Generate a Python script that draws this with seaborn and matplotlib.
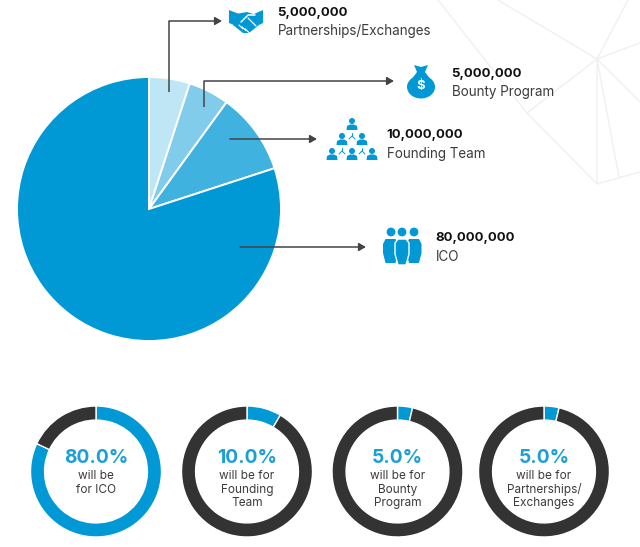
import matplotlib
matplotlib.use("Agg")
import matplotlib.pyplot as plt
import matplotlib.patches as mpatches
import seaborn as sns

# Token allocation
categories = ["Partnerships/Exchanges", "Bounty Program", "Founding Team", "ICO"]
tokens = [5000000, 5000000, 10000000, 80000000]
token_labels = ["5,000,000", "5,000,000", "10,000,000", "80,000,000"]
pie_colors = ["#BFE6F5", "#80CCEA", "#40B2E0", "#0099D5"]

# Rings at the bottom: printed percent, and the arc as it is actually drawn
ring_values = [80.0, 10.0, 5.0, 5.0]
ring_arcs = [82.0, 8.5, 3.7, 3.7]
ring_labels = ["will be\nfor ICO", "will be for\nFounding\nTeam", "will be for\nBounty\nProgram", "will be for\nPartnerships/\nExchanges"]
ring_x = [96, 247, 397.5, 544]

BLUE = "#0099D5"
DARK = "#333333"
TEXT = "#3c3c3c"
W, H = 640, 547

sns.set_theme(style="white")
plt.rcParams["font.family"] = ["Inter", "DejaVu Sans"]

fig = plt.figure(figsize=(W / 100, H / 100), dpi=100, facecolor="white")


def pie_axes(cx, cy, r):
    a = fig.add_axes([(cx - r) / W, 1 - (cy + r) / H, 2 * r / W, 2 * r / H])
    a.set_xlim(-1, 1)
    a.set_ylim(-1, 1)
    a.axis("off")
    return a


# background lines, sit behind everything
bg = fig.add_axes([0, 0, 1, 1], zorder=0)
bg.set_xlim(0, W)
bg.set_ylim(H, 0)
bg.axis("off")
web = [[(438, 0), (527, 113), (597, 184), (640, 172)], [(498, 0), (597, 59), (628, 0)],
       [(640, 43), (597, 59), (640, 102)], [(527, 113), (597, 59), (597, 184)], [(597, 59), (619, 177)]]
for seg in web:
    bg.plot([p[0] for p in seg], [p[1] for p in seg], color="#F0F0F0", lw=1)

# main pie
ax = pie_axes(149, 209, 132)
ax.set_zorder(1)
ax.pie(tokens, colors=pie_colors, startangle=90, counterclock=False, radius=1,
       wedgeprops={"edgecolor": "white", "linewidth": 1.4})
ax.set_xlim(-1, 1)
ax.set_ylim(-1, 1)

# rings
for x, v in zip(ring_x, ring_arcs):
    a = pie_axes(x, 471.5, 65.5)
    a.set_zorder(1)
    a.pie([v, 100 - v], colors=[BLUE, DARK], startangle=90, counterclock=False, radius=1,
          wedgeprops={"width": 0.215})
    a.set_xlim(-1, 1)
    a.set_ylim(-1, 1)

# overlay in pixel coordinates
ov = fig.add_axes([0, 0, 1, 1], zorder=2)
ov.set_xlim(0, W)
ov.set_ylim(H, 0)
ov.axis("off")
ov.patch.set_alpha(0)


def arrow(points):
    xs = [p[0] for p in points]
    ys = [p[1] for p in points]
    ov.plot(xs[:-1], ys[:-1], color="#444444", lw=1.1, solid_capstyle="butt")
    ov.annotate("", xy=points[-1], xytext=points[-2],
                arrowprops=dict(arrowstyle="-|>,head_width=0.2,head_length=0.35", color="#444444", lw=1.1,
                                shrinkA=0, shrinkB=0))


arrow([(169, 92), (169, 21), (222, 21)])
arrow([(204, 107), (204, 81), (394, 81)])
arrow([(230, 139), (317, 139)])
arrow([(240, 247), (366, 247)])

# callout text
label_pos = [(278, 13, 31), (452, 74, 92), (387, 135, 154), (436, 238, 257)]
for (x, y1, y2), num, cat in zip(label_pos, token_labels, categories):
    ov.text(x - 0.5, y1, num, fontsize=9.5, fontweight="bold", color="#111111", va="center", ha="left")
    ov.text(x, y2, cat, fontsize=9.7, color=TEXT, va="center", ha="left")

# ring text
for x, v, lab in zip(ring_x, ring_values, ring_labels):
    ov.text(x, 458, f"{v:.1f}%", fontsize=13.8, fontweight="bold", color="#1A9FD8", ha="center", va="center")
    for i, line in enumerate(lab.split("\n")):
        ov.text(x, 476 + i * 13.6, line, fontsize=8.5, color=TEXT, ha="center", va="center")


# icons
def person(x, y):
    ov.add_patch(mpatches.Circle((x, y - 3), 3, color=BLUE, lw=0))
    ov.add_patch(mpatches.Polygon([(x - 5.5, y + 6), (x - 5, y + 2), (x - 2, y + 0.5),
                                   (x + 2, y + 0.5), (x + 5, y + 2), (x + 5.5, y + 6)],
                                  color=BLUE, lw=0))


def handshake():
    ov.add_patch(mpatches.Polygon([(229, 10), (239, 14), (234, 25), (229, 23)], color=BLUE, lw=0))
    ov.add_patch(mpatches.Polygon([(263, 10), (254, 14), (259, 25), (263, 23)], color=BLUE, lw=0))
    ov.add_patch(mpatches.Polygon([(236, 14), (247, 12), (256, 15), (259, 25), (249, 33), (243, 33), (233, 25)],
                                  color=BLUE, lw=0))
    ov.plot([241, 248, 255], [22, 15, 15], color="white", lw=1.1)
    ov.plot([248, 256], [18, 26], color="white", lw=0.9)
    for dx in (0, 3, 6):
        ov.plot([239 + dx, 243 + dx], [25 + dx * 0.6, 29 + dx * 0.6], color="white", lw=0.8)


def moneybag():
    ov.add_patch(mpatches.Ellipse((421, 87), 28, 23, color=BLUE, lw=0))
    ov.add_patch(mpatches.Polygon([(414, 65), (421, 67), (428, 65), (425, 72), (431, 80), (411, 80), (417, 72)],
                                  color=BLUE, lw=0))
    ov.text(421, 86, "$", color="white", fontsize=9.5, fontweight="bold", ha="center", va="center")


def org_tree():
    for px, py in [(352, 124), (342, 139), (362, 139), (332, 154), (352, 154), (372, 154)]:
        person(px, py)
    for px, py in [(352, 136), (342, 151), (362, 151)]:
        ov.plot([px - 3, px, px + 3], [py + 3, py, py + 3], color=BLUE, lw=0.7)
        ov.plot([px, px], [py - 3, py], color=BLUE, lw=0.7)


def people():
    for px in (391, 402, 414):
        ov.add_patch(mpatches.Circle((px, 232), 4.4, color=BLUE, lw=0, zorder=3))
    for px in (390.5, 414):
        ov.add_patch(mpatches.Polygon([(px - 7.5, 244), (px - 5, 239), (px + 5, 239), (px + 7.5, 244),
                                       (px + 7.5, 253), (px + 5, 263), (px - 5, 263), (px - 7.5, 253)],
                                      color=BLUE, lw=0, zorder=3))
    ov.add_patch(mpatches.Polygon([(395, 243), (398, 239), (406, 239), (409, 243), (409, 254), (406, 265), (398, 265), (395, 254)],
                                  facecolor=BLUE, edgecolor="white", lw=1, zorder=4))


handshake()
moneybag()
org_tree()
people()

fig.savefig("out.png", dpi=100, facecolor="white")
